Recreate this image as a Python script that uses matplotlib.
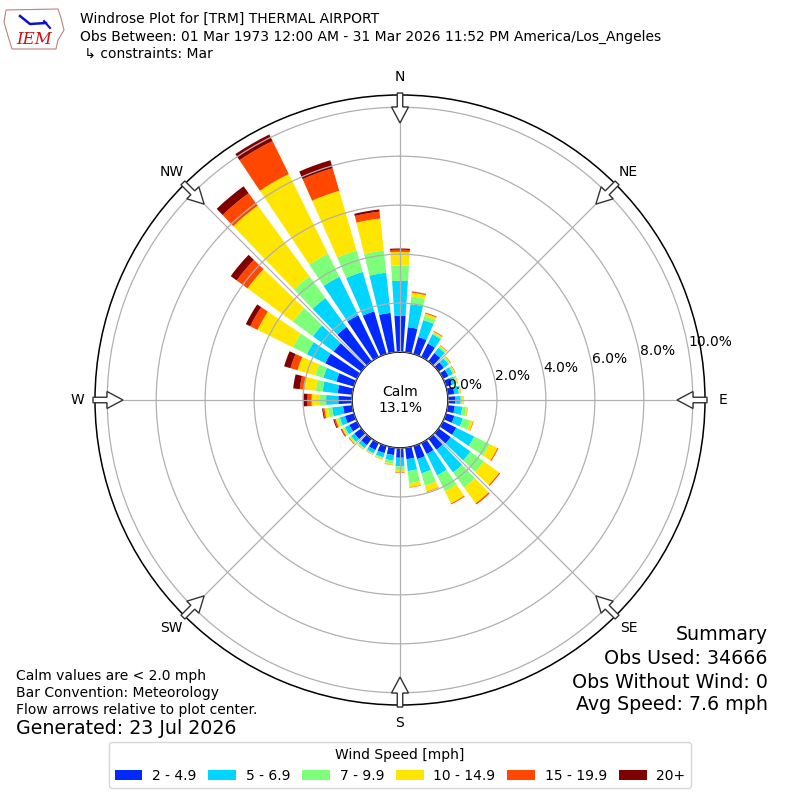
import numpy as np
import matplotlib
matplotlib.use("Agg")
import matplotlib.pyplot as plt
from matplotlib.patches import FancyArrow, Polygon

# ---------------- data (percent of observations) ----------------
directions = list(range(0, 360, 10))
speed_bins = ["2 - 4.9", "5 - 6.9", "7 - 9.9", "10 - 14.9", "15 - 19.9", "20+"]

pct_2_49 = [1.48, 1.03, 0.72, 0.61, 0.42, 0.26, 0.25, 0.25, 0.27, 0.29, 0.29, 0.35,
            0.60, 0.61, 0.56, 0.50, 0.55, 0.47, 0.40, 0.30, 0.30, 0.32, 0.33, 0.35,
            0.35, 0.38, 0.38, 0.56, 0.60, 0.75, 1.45, 1.40, 1.74, 1.90, 1.81, 1.62]
pct_5_69 = [1.43, 0.95, 0.72, 0.42, 0.27, 0.24, 0.20, 0.17, 0.19, 0.23, 0.31, 0.36,
            0.82, 1.00, 1.15, 0.97, 0.61, 0.49, 0.35, 0.23, 0.18, 0.15, 0.15, 0.17,
            0.20, 0.22, 0.45, 0.50, 0.62, 0.55, 0.83, 1.05, 1.46, 1.75, 1.68, 1.65]
pct_7_99 = [0.63, 0.31, 0.18, 0.07, 0.07, 0.06, 0.06, 0.05, 0.05, 0.06, 0.18, 0.32,
            0.70, 0.68, 0.76, 0.72, 0.52, 0.50, 0.15, 0.12, 0.05, 0.04, 0.04, 0.06,
            0.07, 0.10, 0.17, 0.25, 0.28, 0.35, 0.64, 1.01, 1.10, 1.05, 0.91, 0.91]
pct_10_149 = [0.55, 0.16, 0.10, 0.05, 0.04, 0.04, 0.04, 0.03, 0.03, 0.04, 0.04, 0.12,
              0.36, 0.77, 0.80, 0.56, 0.26, 0.16, 0.10, 0.06, 0.04, 0.02, 0.03, 0.04,
              0.06, 0.08, 0.14, 0.34, 0.47, 0.75, 1.61, 2.30, 3.58, 3.63, 2.54, 1.32]
pct_15_199 = [0.09, 0.04, 0.04, 0.03, 0.02, 0.02, 0.02, 0.01, 0.01, 0.01, 0.01, 0.02,
              0.04, 0.05, 0.06, 0.04, 0.02, 0.02, 0.02, 0.01, 0.01, 0.01, 0.01, 0.03,
              0.04, 0.06, 0.06, 0.17, 0.19, 0.30, 0.33, 0.55, 0.63, 1.50, 0.96, 0.28]
pct_20p = [0.05, 0.01, 0.00, 0.00, 0.00, 0.00, 0.00, 0.00, 0.00, 0.00, 0.00, 0.00,
           0.00, 0.00, 0.00, 0.00, 0.00, 0.00, 0.00, 0.00, 0.00, 0.00, 0.00, 0.00,
           0.02, 0.04, 0.04, 0.17, 0.27, 0.27, 0.20, 0.30, 0.35, 0.30, 0.34, 0.09]

calm_pct = 13.1
ring_values = [0, 2, 4, 6, 8, 10]
compass_labels = ["N", "NE", "E", "SE", "S", "SW", "W", "NW"]
compass_angles = list(range(0, 360, 45))

title_lines = ["Windrose Plot for [TRM] THERMAL AIRPORT",
               "Obs Between: 01 Mar 1973 12:00 AM - 31 Mar 2026 11:52 PM America/Los_Angeles",
               " \u21b3 constraints: Mar"]
summary_lines = ["Summary", "Obs Used: 34666", "Obs Without Wind: 0", "Avg Speed: 7.6 mph"]
note_lines = ["Calm values are < 2.0 mph", "Bar Convention: Meteorology",
              "Flow arrows relative to plot center."]
generated = "Generated: 23 Jul 2026"

# ---------------- figure ----------------
W = H = 800
fig = plt.figure(figsize=(8, 8), dpi=100)
cx, cy, R = 400, 400, 305
ax = fig.add_axes([(cx - R) / W, (cy - R) / H, 2 * R / W, 2 * R / H], projection="polar")
ax.set_theta_zero_location("N")
ax.set_theta_direction(-1)

series = [pct_2_49, pct_5_69, pct_7_99, pct_10_149, pct_15_199, pct_20p]
colors = plt.get_cmap("jet")(np.linspace(0, 1, 7)[1:])
theta = np.deg2rad(directions)
bottom = np.zeros(len(directions))
handles = []
for vals, col, lab in zip(series, colors, speed_bins):
    v = np.asarray(vals)
    b = ax.bar(theta, v, width=np.deg2rad(7.6), bottom=bottom, color=col,
               edgecolor="none", label=lab, zorder=1)
    handles.append(b)
    bottom = bottom + v

ax.set_ylim(0, 10.5)
ax.set_rorigin(-1.96)
ax.set_yticks(ring_values)
ax.set_yticklabels([f"{r:.1f}%" for r in ring_values], fontsize=10)
ax.set_rlabel_position(80)
ax.set_xticks(np.deg2rad(compass_angles))
ax.set_xticklabels(compass_labels, fontsize=10)
ax.tick_params(axis="x", pad=6, length=0)
ax.grid(True, color="#b0b0b0", lw=0.9)
ax.set_axisbelow(False)
for sp in ax.spines.values():
    sp.set_linewidth(1.1)

ax.text(0.5, 0.5, f"Calm\n{calm_pct:.1f}%", transform=ax.transAxes,
        ha="center", va="center", fontsize=10)

# ---------------- flow arrows (overlay in pixel space) ----------------
ov = fig.add_axes([0, 0, 1, 1], zorder=5)
ov.set_xlim(0, W)
ov.set_ylim(0, H)
ov.axis("off")
for a in compass_angles:
    ux, uy = np.sin(np.deg2rad(a)), np.cos(np.deg2rad(a))
    r0, r1 = R + 2, R - 28
    ov.add_patch(FancyArrow(cx + ux * r0, cy + uy * r0, (r1 - r0) * ux, (r1 - r0) * uy,
                            width=5.5, head_width=17, head_length=16,
                            length_includes_head=True, fc="white", ec="#333333", lw=1.0))

# ---------------- texts ----------------
for i, line in enumerate(title_lines):
    fig.text(80 / W, 1 - (19 + 17.5 * i) / H, line, fontsize=10, va="center", ha="left")

# IEM logo (approximation)
outline = [(6, 10), (58, 9), (61, 18), (64, 30), (58, 40), (56, 49), (12, 49), (8, 36), (4, 22)]
ov.add_patch(Polygon([(x, H - y) for x, y in outline], closed=True, fill=False,
                     ec="#c08080", lw=0.8))
fig.text(34 / W, 1 - 39 / H, "IEM", fontsize=12, color="#cc1111", family="DejaVu Serif",
         style="italic", ha="center", va="center")
ov.plot([20, 30, 46], [H - 16, H - 24, H - 23], color="#1010cc", lw=1.8)
ov.plot([44, 50], [H - 21, H - 28], color="#1010cc", lw=1.5)

sum_y = [635, 659, 682, 705]
for line, y in zip(summary_lines, sum_y):
    fig.text(768 / W, 1 - y / H, line, fontsize=13.7, ha="right", va="center")

note_y = [676, 693, 710]
for line, y in zip(note_lines, note_y):
    fig.text(16 / W, 1 - y / H, line, fontsize=10, ha="left", va="center")
fig.text(16 / W, 1 - 729 / H, generated, fontsize=13.7, ha="left", va="center")

leg = fig.legend(handles=handles, labels=speed_bins, loc="lower center",
                 bbox_to_anchor=(0.5, 5 / H), ncol=6, title="Wind Speed [mph]",
                 fontsize=10, title_fontsize=10, handlelength=2.0, handletextpad=0.7,
                 columnspacing=0.85, frameon=True, fancybox=True)
leg.get_frame().set_edgecolor("#cccccc")

fig.savefig("out.png", dpi=100)
